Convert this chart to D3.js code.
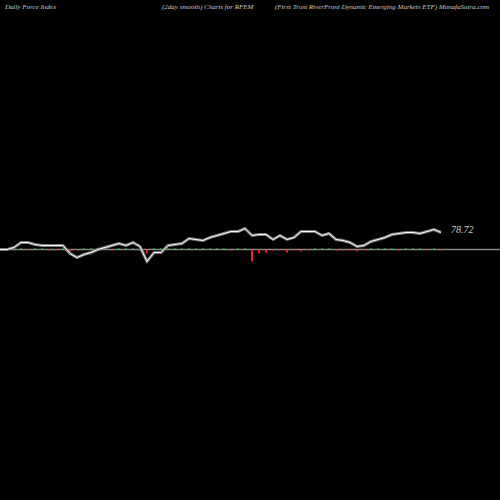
<!DOCTYPE html><html><head><script src="https://cdn.jsdelivr.net/npm/d3@7"></script>
<style>body{margin:0;background:#000}</style></head><body><script>
const values=[0,0,2,7,7,5,4,4,4,4,-4,-8,-5,-3,0,2,4,6,4,7,3,-12,-3,-3,4,5,6,11,10,9,12,14,16,18,18,21,14,15,15,10,14,10,12,18,18,18,14,16,10,9,7,3,4,8,10,12,15,16,17,17,16,18,20,17];
const force=[0,1,1,1,-1,1,1,-1,-1,1,-4,-1,1,1,1,1,-1,1,1,1,-1,-4,1,1,1,1,1,1,1,1,1,1,1,-1,1,1,-12,-4,-3,-1,-1,-3,-1,-2,-1,1,1,1,-1,-1,-1,-2,-1,1,1,1,1,-1,1,1,1,-1,1,-1];
const lastLabel="78.72";
const titles=[["Daily Force  Index",5],["(2day smooth) Charts for RFEM",162],["(First Trust RiverFront Dynamic Emerging Markets ETF) MunafaSutra.com",275]];
const svg=d3.select("body").append("svg").attr("width",500).attr("height",500).style("background","#000");
const x=d3.scaleLinear().domain([0,63]).range([0,441]);
const y=d3.scaleLinear().domain([-100,100]).range([349.5,149.5]);
svg.append("line").attr("x1",0).attr("x2",500).attr("y1",y(0)).attr("y2",y(0)).attr("stroke","#888").attr("stroke-width",1.5);
svg.selectAll("rect.b").data(force).join("rect").attr("x",(d,i)=>x(i)-1).attr("width",2)
 .attr("y",d=>d>0?y(d):y(0)).attr("height",d=>Math.abs(y(d)-y(0)))
 .attr("fill",d=>d>0?"#2c2":"#e22");
const line=d3.line().x((d,i)=>x(i)).y(d=>y(d));
svg.append("path").attr("d",line(values)).attr("fill","none").attr("stroke","#777").attr("stroke-width",3);
svg.append("path").attr("d",line(values)).attr("fill","none").attr("stroke","#fff").attr("stroke-width",1);
svg.append("text").attr("x",451).attr("y",y(values[62])+3).text(lastLabel).attr("fill","#ccc").attr("font-family","Liberation Serif").attr("font-style","italic").attr("font-size",10);
svg.selectAll("text.t").data(titles).join("text").attr("x",d=>d[1]).attr("y",9).text(d=>d[0]).attr("fill","#ccc").attr("font-family","Liberation Serif").attr("font-style","italic").attr("font-size",7);
</script></body></html>
